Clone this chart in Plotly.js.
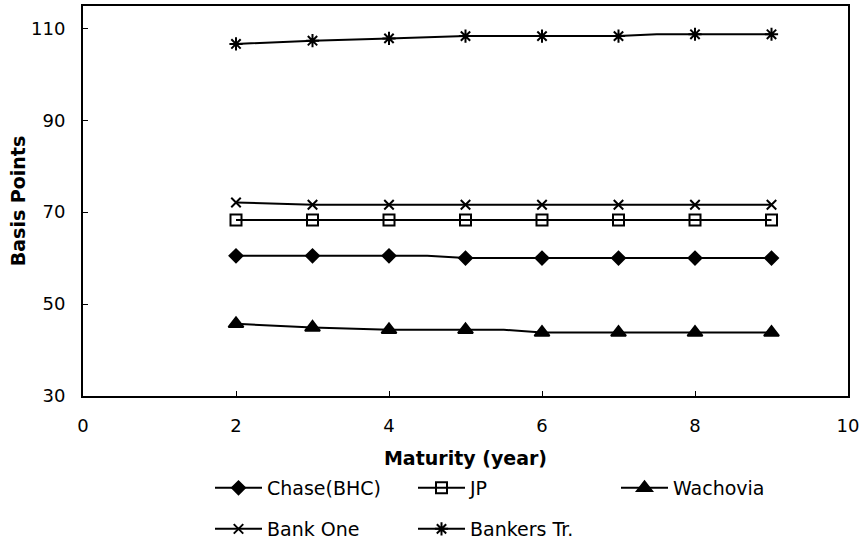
<!DOCTYPE html>
<html><head><meta charset="utf-8">
<script src="https://cdn.plot.ly/plotly-3.0.1.min.js"></script>
<style>html,body{margin:0;padding:0;background:#fff}#chart{width:862px;height:543px}</style>
</head><body><div id="chart"></div>
<script>
// Data (maturity in years, spread in basis points)
const seriesNames = ['Chase(BHC)', 'JP', 'Wachovia', 'Bank One', 'Bankers Tr.'];
const chaseX = [2, 3, 4, 4.5, 5, 6, 7, 8, 9];
const chaseY = [60.5, 60.5, 60.5, 60.5, 60, 60, 60, 60, 60];
const jpX = [2, 3, 4, 5, 6, 7, 8, 9];
const jpY = [68.3, 68.3, 68.3, 68.3, 68.3, 68.3, 68.3, 68.3];
const wachoviaX = [2, 3, 4, 5, 5.5, 6, 7, 8, 9];
const wachoviaY = [45.7, 44.9, 44.4, 44.4, 44.4, 43.8, 43.8, 43.8, 43.8];
const bankOneX = [2, 3, 4, 5, 6, 7, 8, 9];
const bankOneY = [72.1, 71.6, 71.6, 71.6, 71.6, 71.6, 71.6, 71.6];
const bankersX = [2, 3, 4, 5, 6, 7, 7.5, 8, 9];
const bankersY = [106.6, 107.3, 107.8, 108.3, 108.3, 108.3, 108.7, 108.7, 108.7];
const xTicks = [0, 2, 4, 6, 8, 10];
const yTicks = [30, 50, 70, 90, 110];

const xs = [chaseX, jpX, wachoviaX, bankOneX, bankersX];
const ys = [chaseY, jpY, wachoviaY, bankOneY, bankersY];
const symbols = ['diamond', 'square-open', 'triangle-up', 'x-thin-open', 'asterisk-open'];
const sizes = [10, 11, 13, 9.5, 11];
const legendIds = ['legend', 'legend', 'legend', 'legend2', 'legend2'];
const FONT = 'DejaVu Sans, Arial, sans-serif';

const traces = [];
for (let i = 0; i < seriesNames.length; i++) {
  const mk = {symbol: symbols[i], size: sizes[i], color: '#000', line: {color: '#000', width: 2}};
  // connecting line (all points)
  traces.push({x: xs[i], y: ys[i], mode: 'lines', line: {color: '#000', width: 2},
    showlegend: false, hoverinfo: 'skip'});
  // markers at whole years
  const mx = [], my = [];
  xs[i].forEach((v, k) => { if (Number.isInteger(v)) { mx.push(v); my.push(ys[i][k]); } });
  traces.push({x: mx, y: my, mode: 'markers', marker: mk, showlegend: false, name: seriesNames[i]});
  // legend entry
  traces.push({x: [null], y: [null], mode: 'lines+markers', name: seriesNames[i],
    line: {color: '#000', width: 2}, marker: mk, legend: legendIds[i], showlegend: true});
}

const axisCommon = {showline: true, linecolor: '#000', linewidth: 2, mirror: true,
  ticks: 'inside', ticklen: 5, tickwidth: 1, tickcolor: '#000', showgrid: false,
  zeroline: false, tickfont: {family: FONT, size: 18, color: '#000'}};

const legendCommon = {orientation: 'h', xref: 'container', yref: 'container',
  x: 210 / 862, xanchor: 'left', yanchor: 'middle',
  font: {family: FONT, size: 19, color: '#000'}, itemwidth: 47, entrywidth: 141,
  entrywidthmode: 'pixels', bgcolor: 'rgba(0,0,0,0)'};

const layout = {
  width: 862, height: 543,
  margin: {l: 83, r: 14, t: 6, b: 147},
  paper_bgcolor: '#fff', plot_bgcolor: '#fff',
  font: {family: FONT, color: '#000'},
  xaxis: Object.assign({}, axisCommon, {range: [0, 10], tickvals: xTicks,
    ticklabelstandoff: 12,
    title: {text: 'Maturity (year)', font: {family: FONT, size: 19, color: '#000', weight: 'bold'}, standoff: 17}}),
  yaxis: Object.assign({}, axisCommon, {range: [30, 114.85], tickvals: yTicks,
    ticklabelstandoff: 12,
    title: {text: 'Basis Points', font: {family: FONT, size: 19, color: '#000', weight: 'bold'}, standoff: 0}}),
  legend: Object.assign({}, legendCommon, {y: (543 - 488) / 543}),
  legend2: Object.assign({}, legendCommon, {y: (543 - 529) / 543}),
  showlegend: true
};

Plotly.newPlot('chart', traces, layout, {displayModeBar: false, staticPlot: true});
</script>
</body></html>
